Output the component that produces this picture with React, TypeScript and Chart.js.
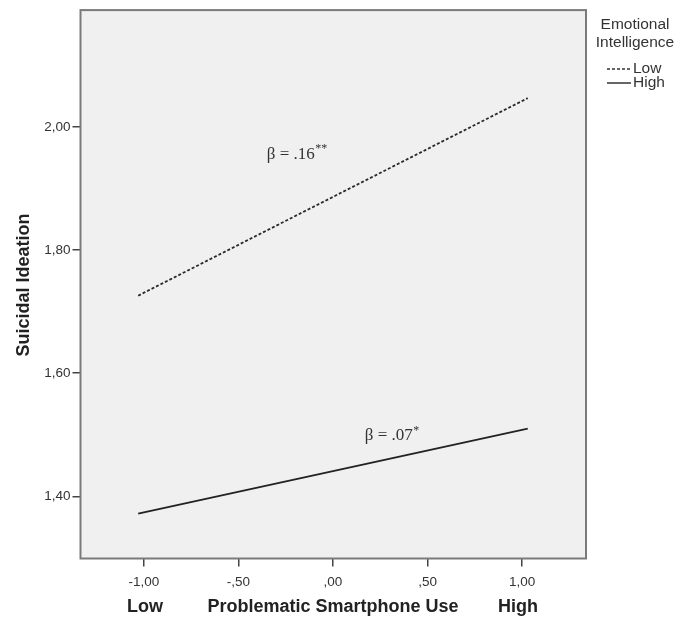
import React, { useEffect, useRef } from "react";
import { Chart, registerables } from "chart.js";

Chart.register(...registerables);

// ---- data ----
const seriesNames = ["Low", "High"];
const xEnds = [-1.03, 1.03];
const lowValues = [1.726, 2.047];
const highValues = [1.372, 1.51];
const xTickValues = [-1, -0.5, 0, 0.5, 1];
const xTickLabels = ["-1,00", "-,50", ",00", ",50", "1,00"];
const yTickValues = [1.4, 1.6, 1.8, 2.0];
const yTickLabels = ["1,40", "1,60", "1,80", "2,00"];
const xTitle = "Problematic Smartphone Use";
const xLowLabel = "Low";
const xHighLabel = "High";
const yTitle = "Suicidal Ideation";
const legendTitle = ["Emotional", "Intelligence"];
const annotations = [
  { text: "β = .16", sup: "**", x: -0.35, y: 1.956 },
  { text: "β = .07", sup: "*", x: 0.168, y: 1.499 },
];

const SANS = "'Liberation Sans', Arial, sans-serif";
const SERIF = "'Liberation Serif', 'Times New Roman', serif";

const decorPlugin = {
  id: "decor",
  beforeDatasetsDraw(chart: any) {
    const { ctx, chartArea: a } = chart;
    ctx.save();
    ctx.fillStyle = "#f0f0f0";
    ctx.fillRect(a.left, a.top, a.right - a.left, a.bottom - a.top);
    ctx.restore();
  },
  afterDatasetsDraw(chart: any) {
    const { ctx, chartArea: a, scales } = chart;
    ctx.save();
    ctx.strokeStyle = "#7a7a7a";
    ctx.lineWidth = 2;
    ctx.strokeRect(a.left, a.top, a.right - a.left, a.bottom - a.top);

    // annotations
    ctx.fillStyle = "#333";
    ctx.textBaseline = "middle";
    ctx.textAlign = "left";
    for (const an of annotations) {
      const px = scales.x.getPixelForValue(an.x);
      const py = scales.y.getPixelForValue(an.y);
      ctx.font = `17px ${SERIF}`;
      ctx.fillText(an.text, px, py);
      const w = ctx.measureText(an.text).width;
      ctx.font = `12px ${SERIF}`;
      ctx.fillText(an.sup, px + w + 0.5, py - 5);
    }
    ctx.restore();
  },
  afterDraw(chart: any) {
    const { ctx } = chart;
    ctx.save();
    ctx.fillStyle = "#222";
    ctx.textBaseline = "middle";
    // y title
    ctx.font = `bold 18px ${SANS}`;
    ctx.save();
    ctx.translate(24, 285);
    ctx.rotate(-Math.PI / 2);
    ctx.textAlign = "center";
    ctx.fillText(yTitle, 0, 0);
    ctx.restore();
    // x title
    ctx.textAlign = "center";
    ctx.fillText(xTitle, 333, 607);
    ctx.fillText(xLowLabel, 145, 607);
    ctx.fillText(xHighLabel, 518, 607);

    // legend
    ctx.fillStyle = "#333";
    ctx.font = `15.5px ${SANS}`;
    ctx.textAlign = "center";
    ctx.fillText(legendTitle[0], 635, 25);
    ctx.fillText(legendTitle[1], 635, 43);
    const rows = [
      { name: seriesNames[0], dash: [3, 2], y: 69 },
      { name: seriesNames[1], dash: [], y: 83 },
    ];
    for (const r of rows) {
      ctx.strokeStyle = "#333";
      ctx.lineWidth = 1.5;
      ctx.setLineDash(r.dash);
      ctx.beginPath();
      ctx.moveTo(607, r.y);
      ctx.lineTo(631, r.y);
      ctx.stroke();
      ctx.setLineDash([]);
      ctx.textAlign = "left";
      ctx.fillText(r.name, 633, r.y);
    }
    ctx.restore();
  },
};

export default function App() {
  const ref = useRef<HTMLCanvasElement | null>(null);
  useEffect(() => {
    if (!ref.current) return;
    const chart = new Chart(ref.current, {
      type: "line",
      data: {
        datasets: [
          {
            label: seriesNames[0],
            data: xEnds.map((x, i) => ({ x, y: lowValues[i] })),
            borderColor: "#2a2a2a",
            borderWidth: 1.8,
            borderDash: [3, 2],
            pointRadius: 0,
          },
          {
            label: seriesNames[1],
            data: xEnds.map((x, i) => ({ x, y: highValues[i] })),
            borderColor: "#222",
            borderWidth: 1.8,
            pointRadius: 0,
          },
        ],
      },
      options: {
        animation: false,
        responsive: false,
        layout: { padding: { top: 9, right: 106, left: 0, bottom: 0 } },
        plugins: { legend: { display: false }, tooltip: { enabled: false } },
        scales: {
          x: {
            type: "linear",
            min: -1.335,
            max: 1.338,
            afterBuildTicks: (s: any) => {
              s.ticks = xTickValues.map((v) => ({ value: v }));
            },
            afterFit: (s: any) => {
              s.height = 59.5;
            },
            ticks: {
              callback: (v: any) => {
                const i = xTickValues.findIndex((t) => Math.abs(t - v) < 1e-9);
                return i >= 0 ? xTickLabels[i] : "";
              },
              font: { family: SANS, size: 13.5 },
              color: "#333",
              padding: 8,
              maxRotation: 0,
              autoSkip: false,
            },
            grid: {
              drawOnChartArea: false,
              drawTicks: true,
              tickLength: 8,
              color: "#444",
              lineWidth: 1.5,
            },
            border: { display: false },
          },
          y: {
            type: "linear",
            min: 1.299,
            max: 2.19,
            afterBuildTicks: (s: any) => {
              s.ticks = yTickValues.map((v) => ({ value: v }));
            },
            afterFit: (s: any) => {
              s.width = 80.5;
            },
            ticks: {
              callback: (v: any) => {
                const i = yTickValues.findIndex((t) => Math.abs(t - v) < 1e-9);
                return i >= 0 ? yTickLabels[i] : "";
              },
              font: { family: SANS, size: 13.5 },
              color: "#333",
              padding: 2,
              autoSkip: false,
            },
            grid: {
              drawOnChartArea: false,
              drawTicks: true,
              tickLength: 8,
              color: "#444",
              lineWidth: 1.5,
            },
            border: { display: false },
          },
        },
      } as any,
      plugins: [decorPlugin],
    });
    return () => chart.destroy();
  }, []);
  return (
    <div style={{ position: "absolute", left: 0, top: 0, width: 692, height: 618, background: "#fff" }}>
      <canvas ref={ref} width={692} height={618} style={{ display: "block" }} />
    </div>
  );
}
